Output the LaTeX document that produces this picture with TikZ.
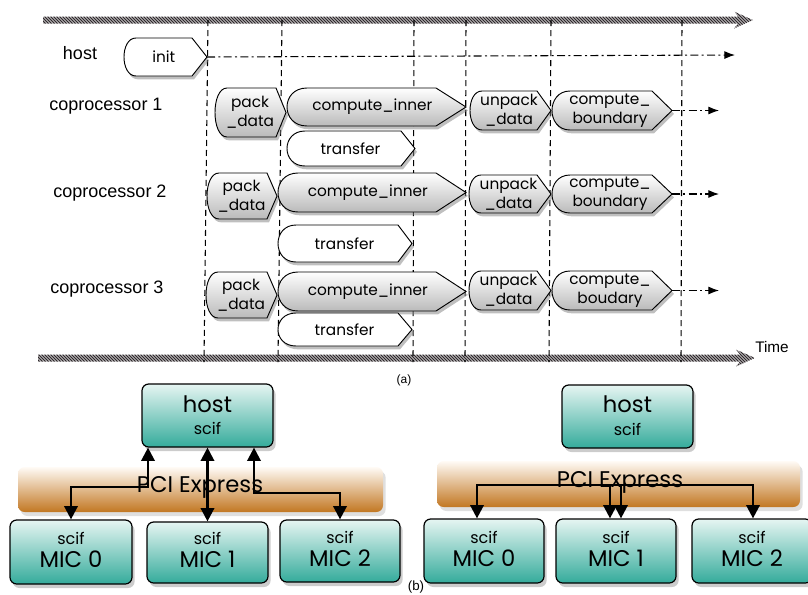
\documentclass[tikz,border=0pt]{standalone}
\usepackage{fontspec}
\setmainfont{Liberation Sans}
\newfontfamily\geo{Poppins}
\usetikzlibrary{shadows,arrows.meta,calc}
\definecolor{tealtop}{HTML}{E6F5F2}
\definecolor{tealbot}{HTML}{34AB9B}
\definecolor{orgtop}{HTML}{FFFBF6}
\definecolor{orgbot}{HTML}{C27722}
\definecolor{hatchc}{HTML}{2E282B}
\newcommand\procshape[9]{%
  \path[#8] (#2+#6,#3) -- (#4-#7,#3) -- (#4,{(#3+#5)/2}) -- (#4-#7,#5) -- (#2+#6,#5)
    .. controls ({#2-#6/3},#5) and ({#2-#6/3},#3) .. (#2+#6,#3) -- cycle;
  \node[ptext] (#1) at ({(#2+#6/3+#4-#7/2)/2},{(#3+#5)/2}) {#9};
  \coordinate (#1tip) at (#4,{(#3+#5)/2});}
\newcommand\hatcharrow[3]{%
  \begin{scope}
    \clip (#1,#3-3.5) -- (#2-15,#3-3.5) -- (#2-19,#3-8.5) -- (#2,#3) -- (#2-19,#3+8.5) -- (#2-15,#3+3.5) -- (#1,#3+3.5) -- cycle;
    \fill[white] (#1-5,#3-10) rectangle (#2+5,#3+10);
    \foreach \t in {20,23,...,780} \draw[hatchc, line width=0.95pt] (\t,#3-10) -- (\t+20,#3+10);
  \end{scope}}
\tikzset{
  gproc/.style={draw=black, line width=0.7pt, top color=white, bottom color=black!27,
    drop shadow={opacity=0.5, shadow xshift=1.5pt, shadow yshift=-2.5pt}},
  wproc/.style={draw=black, line width=0.7pt, fill=white,
    drop shadow={opacity=0.5, shadow xshift=1.5pt, shadow yshift=-2.5pt}},
  ptext/.style={font=\geo\fontsize{11.5}{14.5}\selectfont, align=center, inner sep=0pt},
  lab/.style={font=\fontsize{13.5}{16}\selectfont, inner sep=0pt},
  vdash/.style={line width=0.8pt, dash pattern=on 4.5pt off 3pt},
  ddot/.style={line width=0.8pt, dash pattern=on 6pt off 2.5pt on 1.5pt off 2.5pt, -{Latex[length=8pt,width=6pt]}},
  tbox/.style={draw=black, line width=0.9pt, rounded corners=5pt, top color=tealtop, bottom color=tealbot,
    drop shadow={opacity=0.4, shadow xshift=2pt, shadow yshift=-3pt}, inner sep=0pt},
  pcibar/.style={rounded corners=5pt, top color=orgtop, bottom color=orgbot,
    drop shadow={opacity=0.25, shadow xshift=2pt, shadow yshift=-3pt}, inner sep=0pt},
  conn/.style={line width=1.8pt, {Triangle[width=10pt,length=10pt]}-{Triangle[width=10pt,length=10pt]}},
  big/.style={font=\geo\fontsize{17}{20}\selectfont, inner sep=0pt},
  small/.style={font=\geo\fontsize{12}{14}\selectfont, inner sep=0pt},
}
\begin{document}
\begin{tikzpicture}[x=0.75pt,y=-0.75pt]
\useasboundingbox (0,0) rectangle (808,594);
% time bars
\hatcharrow{43}{753}{20}
\hatcharrow{38}{755}{358}
\node[font=\fontsize{11.5}{13}\selectfont, inner sep=0pt] (time) at (772,347) {Time};
% vertical dashed lines
\draw[vdash] (208,20) -- (204,362);
\draw[vdash] (282,20) -- (278,362);
\draw[vdash] (414,20) -- (413,362);
\draw[vdash] (466,20) -- (465,362);
\draw[vdash] (551,20) -- (549,362);
\draw[vdash] (682,20) -- (681,362);
% labels
\node[lab] (lhost) at (80,53) {host};
\node[lab] (lc1) at (106,106) {coprocessor 1};
\node[lab] (lc2) at (110,193) {coprocessor 2};
\node[lab] (lc3) at (107,289) {coprocessor 3};
% host
\procshape{init}{124}{38}{207}{76}{12}{15}{wproc}{init}
\coordinate (hostend) at (735,55);
\draw[ddot] (inittip) -- (hostend);
% coprocessor 1
\procshape{pa1}{215}{88}{286}{137}{12}{10}{gproc}{pack\\\_data}
\procshape{ci1}{287}{88}{466}{126}{20}{30}{gproc}{compute\_inner}
\procshape{tr1}{287}{131}{415}{166}{18}{14}{wproc}{transfer}
\procshape{un1}{470}{91}{551}{130}{12}{14}{gproc}{unpack\\\_data}
\procshape{cb1}{552}{91}{672}{130}{18}{20}{gproc}{compute\_\\boundary}
\coordinate (e1) at (719,110.5);
\draw[ddot] (cb1tip) -- (e1);
% coprocessor 2
\procshape{pa2}{207}{173}{277}{219}{12}{10}{gproc}{pack\\\_data}
\procshape{ci2}{278}{173}{466}{212}{20}{30}{gproc}{compute\_inner}
\procshape{tr2}{278}{225}{412}{262}{18}{14}{wproc}{transfer}
\procshape{un2}{469}{175}{551}{213}{12}{14}{gproc}{unpack\\\_data}
\procshape{cb2}{552}{175}{672}{213}{18}{20}{gproc}{compute\_\\boundary}
\coordinate (e2) at (719,194);
\draw[ddot] (cb2tip) -- (e2);
% coprocessor 3
\procshape{pa3}{206}{272}{277}{318}{12}{10}{gproc}{pack\\\_data}
\procshape{ci3}{278}{272}{466}{311}{20}{30}{gproc}{compute\_inner}
\procshape{tr3}{278}{313}{412}{346}{18}{14}{wproc}{transfer}
\procshape{un3}{469}{271}{551}{310}{12}{14}{gproc}{unpack\\\_data}
\procshape{cb3}{552}{271}{672}{310}{18}{20}{gproc}{compute\_\\boudary}
\coordinate (e3) at (719,290.5);
\draw[ddot] (cb3tip) -- (e3);
\node[font=\fontsize{9}{11}\selectfont, inner sep=0pt] (capa) at (404,380) {(a)};
% ---- (b) left
\node[pcibar, minimum width=365*0.75pt, minimum height=45*0.75pt] (pL) at (200.5,489.5) {};
\node[big] (pLt) at (200,487) {PCI Express};
\node[tbox, minimum width=131*0.75pt, minimum height=63*0.75pt] (hL) at (207.5,415.5) {};
\node[big] (hLt) at (207.5,404) {host};
\node[small] (hLs) at (207.5,428) {scif};
\node[tbox, minimum width=122*0.75pt, minimum height=64*0.75pt] (m0L) at (71,552) {};
\node[small] (m0Ls) at (71,538) {scif};
\node[big] (m0Lt) at (71,559) {MIC 0};
\node[tbox, minimum width=121*0.75pt, minimum height=61*0.75pt] (m1L) at (207.5,552.5) {};
\node[small] (m1Ls) at (207.5,538) {scif};
\node[big] (m1Lt) at (207.5,559) {MIC 1};
\node[tbox, minimum width=120*0.75pt, minimum height=62*0.75pt] (m2L) at (340,551) {};
\node[small] (m2Ls) at (340,537) {scif};
\node[big] (m2Lt) at (340,558) {MIC 2};
\coordinate (la) at (148,487);
\coordinate (lb) at (254,493);
\draw[conn] (la |- hL.south) -- (la) -| (m0L.north);
\draw[conn] (hL.south) -- (m1L.north);
\draw[conn] (lb |- hL.south) -- (lb) -| (m2L.north);
% ---- (b) right
\node[pcibar, minimum width=363*0.75pt, minimum height=46*0.75pt] (pR) at (618.5,484) {};
\node[big] (pRt) at (620,482) {PCI Express};
\node[tbox, minimum width=131*0.75pt, minimum height=63*0.75pt] (hR) at (627.5,416.5) {};
\node[big] (hRt) at (627.5,404) {host};
\node[small] (hRs) at (627.5,429) {scif};
\node[tbox, minimum width=120*0.75pt, minimum height=64*0.75pt] (m0R) at (484,551) {};
\node[small] (m0Rs) at (484,537) {scif};
\node[big] (m0Rt) at (484,558) {MIC 0};
\node[tbox, minimum width=120*0.75pt, minimum height=64*0.75pt] (m1R) at (616,551) {};
\node[small] (m1Rs) at (616,537) {scif};
\node[big] (m1Rt) at (616,558) {MIC 1};
\node[tbox, minimum width=120*0.75pt, minimum height=64*0.75pt] (m2R) at (752,551) {};
\node[small] (m2Rs) at (752,537) {scif};
\node[big] (m2Rt) at (752,558) {MIC 2};
\coordinate (ra) at (477,485);
\coordinate (rb) at (621,485);
\coordinate (rc) at (610,485);
\coordinate (rd) at (753,485);
\draw[conn] (ra |- m0R.north) -- (ra) -- (rb) -- (rb |- m1R.north);
\draw[conn] (rd |- m2R.north) -- (rd) -- (rc) -- (rc |- m1R.north);
\node[font=\fontsize{10}{12}\selectfont, inner sep=0pt] (capb) at (416,587) {(b)};
\end{tikzpicture}
\end{document}
